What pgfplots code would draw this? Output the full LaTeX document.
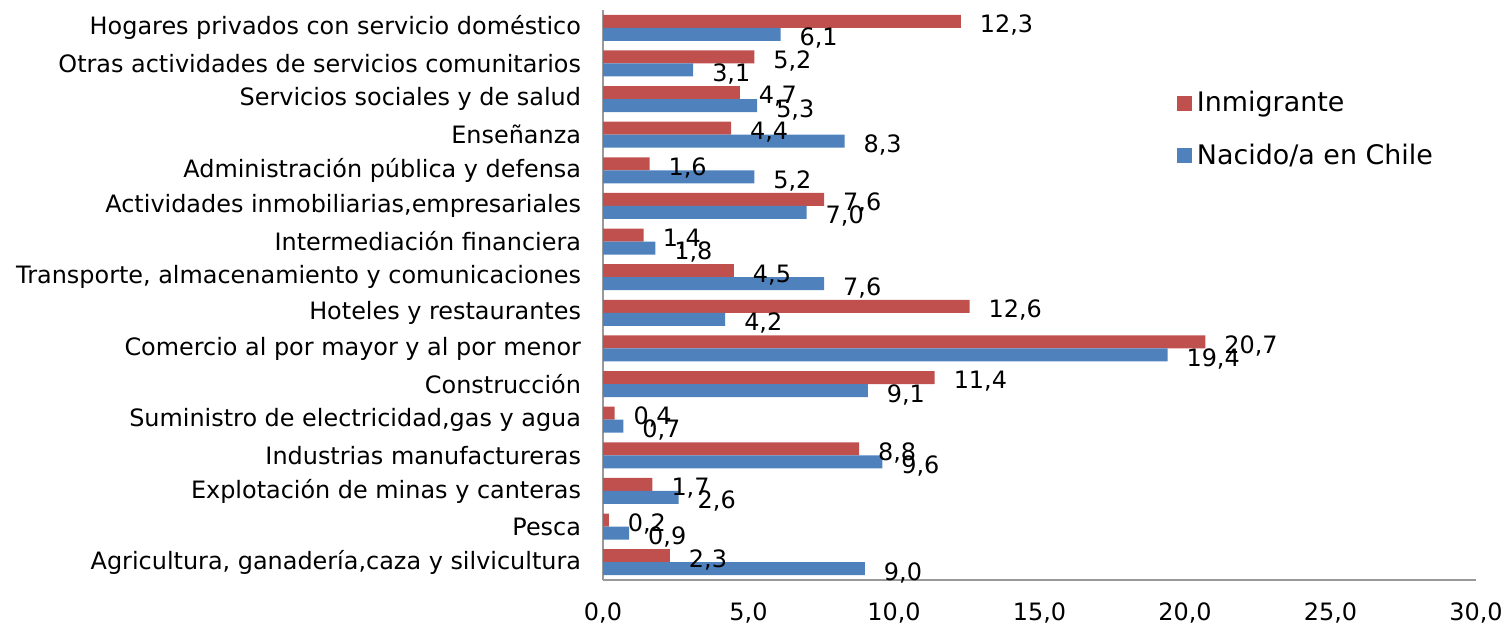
\documentclass[border=0pt]{standalone}
\usepackage{fontspec}
\setmainfont{DejaVu Sans}
\usepackage{pgfplots}
\pgfplotsset{compat=1.18}
\definecolor{inmig}{HTML}{C0504D}
\definecolor{nacido}{HTML}{4F81BD}

\begin{document}
\begin{tikzpicture}
\useasboundingbox (0bp,0bp) rectangle (752bp,312.5bp);
\begin{axis}[
    at={(301.5bp,22.5bp)}, anchor=south west,
    scale only axis,
    width=436.5bp, height=285bp,
    xbar,
    bar width=6.5bp,
    xmin=0, xmax=30,
    ymin=-0.5, ymax=15.5,
    xtick={0,5,...,30},
    ytick={0,...,15},
    yticklabels={
        {Agricultura, ganadería,caza y silvicultura},
        {Pesca},
        {Explotación de minas y canteras},
        {Industrias manufactureras},
        {Suministro de electricidad,gas y agua},
        {Construcción},
        {Comercio al por mayor y al por menor},
        {Hoteles y restaurantes},
        {Transporte, almacenamiento y comunicaciones},
        {Intermediación financiera},
        {Actividades inmobiliarias,empresariales},
        {Administración pública y defensa},
        {Enseñanza},
        {Servicios sociales y de salud},
        {Otras actividades de servicios comunitarios},
        {Hogares privados con servicio doméstico}},
    axis x line*=bottom,
    axis y line*=left,
    axis line style={draw=gray!80, line width=1pt, -},
    major tick length=0pt,
    tick label style={font=\fontsize{12}{14}\selectfont},
    yticklabel style={xshift=-7.5bp},
    xticklabel style={yshift=-8bp},
    /pgf/number format/.cd, use comma, fixed, fixed zerofill, precision=1, assume math mode=true,
    /pgfplots/.cd,
    nodes near coords,
    nodes near coords style={font=\fontsize{12}{14}\selectfont, anchor=west, xshift=6bp, yshift=-2bp, black,
        /pgf/number format/.cd, use comma, fixed, fixed zerofill, precision=1, assume math mode=true},
    legend style={draw=none, fill=none, at={(rel axis cs:0.657,0.865)}, anchor=north west,
        font=\fontsize{13.5}{16}\selectfont, row sep=10.5bp, inner sep=0pt,
        nodes={inner xsep=2.5bp}},
    legend cell align=left,
    legend image code/.code={\fill[#1] (0bp,-3.75bp) rectangle (7.5bp,3.75bp);},
]
\addplot[draw=none, fill=inmig, bar shift=3.25bp] coordinates {
    (2.3,0) (0.2,1) (1.7,2) (8.8,3) (0.4,4) (11.4,5) (20.7,6) (12.6,7)
    (4.5,8) (1.4,9) (7.6,10) (1.6,11) (4.4,12) (4.7,13) (5.2,14) (12.3,15)};
\addplot[draw=none, fill=nacido, bar shift=-3.25bp] coordinates {
    (9.0,0) (0.9,1) (2.6,2) (9.6,3) (0.7,4) (9.1,5) (19.4,6) (4.2,7)
    (7.6,8) (1.8,9) (7.0,10) (5.2,11) (8.3,12) (5.3,13) (3.1,14) (6.1,15)};
\legend{Inmigrante, Nacido/a en Chile}
\end{axis}
\end{tikzpicture}
\end{document}
